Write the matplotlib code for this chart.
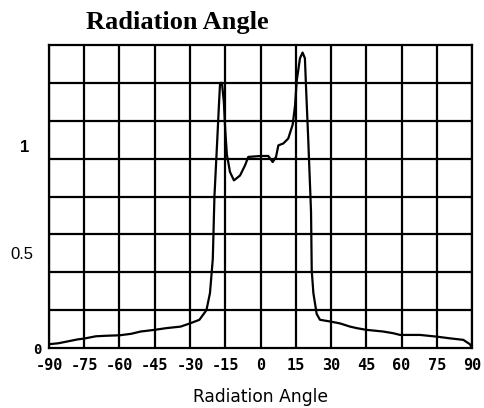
import matplotlib
matplotlib.use("Agg")
import matplotlib.pyplot as plt
from matplotlib.transforms import ScaledTranslation
import numpy as np

angles = [-90, -86, -82, -78, -75, -70, -65, -60, -55, -51, -45, -40, -34, -30, -26, -23,
          -21.5, -20.3, -19.6, -18.4, -17.7, -17.2, -16.4, -15.6, -15.0, -14.3, -13.7, -13.0,
          -11.3, -8.7, -6.6, -5.2, 0, 3.3, 5.2, 6.6, 7.6, 9.7, 11.8, 13.7, 14.7, 15.4, 16.8,
          17.9, 18.9, 19.4, 20.3, 21.5, 21.8, 22.5, 23.9, 25.3, 29.6, 33.8, 38.1, 40.9, 45,
          52.2, 56.5, 59.4, 67.9, 75, 80.6, 86.3, 89.1, 90]
intensity = [0.02, 0.025, 0.035, 0.045, 0.05, 0.062, 0.065, 0.067, 0.075, 0.087, 0.096, 0.105,
             0.113, 0.13, 0.149, 0.2, 0.29, 0.47, 0.80, 1.10, 1.28, 1.40, 1.40, 1.30, 1.15, 1.02,
             0.98, 0.93, 0.885, 0.911, 0.964, 1.009, 1.014, 1.014, 0.982, 1.009, 1.07, 1.08,
             1.106, 1.18, 1.28, 1.41, 1.53, 1.56, 1.53, 1.37, 1.106, 0.72, 0.41, 0.29, 0.18,
             0.149, 0.14, 0.13, 0.113, 0.105, 0.096, 0.087, 0.078, 0.069, 0.069, 0.06, 0.051,
             0.043, 0.02, 0.0]

x_ticks = [-90, -75, -60, -45, -30, -15, 0, 15, 30, 45, 60, 75, 90]
y_ticks = [0, 0.5, 1]
y_tick_labels = ["0", "0.5", "1"]
y_grid = [0.2, 0.4, 0.6, 0.8, 1.0, 1.2, 1.4]

fig = plt.figure(figsize=(4.84, 4.08), dpi=100)
ax = fig.add_axes([49/484, 60/408, 423/484, 303/408])

ax.plot(angles, intensity, color="black", lw=1.6, zorder=3)

ax.set_xlim(-90, 90)
ax.set_ylim(0, 1.6)

ax.set_xticks(x_ticks)
ax.set_xticklabels([str(t) for t in x_ticks], fontfamily="DejaVu Sans Mono",
                   fontweight="bold", fontsize=11)
ax.set_yticks(y_ticks)
ax.set_yticklabels(y_tick_labels, fontfamily="Liberation Sans", fontsize=12)
ax.tick_params(axis="both", which="both", length=0)
ax.tick_params(axis="x", pad=7)
ax.tick_params(axis="y", pad=11)

ax.grid(axis="x", which="major", color="black", lw=1.6)
for g in y_grid:
    ax.axhline(g, color="black", lw=1.6, zorder=2)

for s in ax.spines.values():
    s.set_linewidth(1.6)
    s.set_color("black")

# adjust y tick label offsets like the reference
offsets = {"0": (8, -1), "1": (-4, 13), "0.5": (0, 0)}
for lbl in ax.get_yticklabels():
    dx, dy = offsets.get(lbl.get_text(), (0, 0))
    if lbl.get_text() == "0":
        lbl.set_fontfamily("DejaVu Sans Mono")
        lbl.set_fontweight("bold")
        lbl.set_fontsize(10)
    if lbl.get_text() == "1":
        lbl.set_fontweight("bold")
    lbl.set_transform(lbl.get_transform() + ScaledTranslation(dx/100, dy/100, fig.dpi_scale_trans))

ax.set_xlabel("Radiation Angle", fontfamily="DejaVu Sans", fontsize=12.3, labelpad=11)
fig.text(177/484, 1 - 22/408, "Radiation Angle", fontfamily="Liberation Serif",
         fontweight="bold", fontsize=19, ha="center", va="center")

fig.savefig("out.png", dpi=100)
